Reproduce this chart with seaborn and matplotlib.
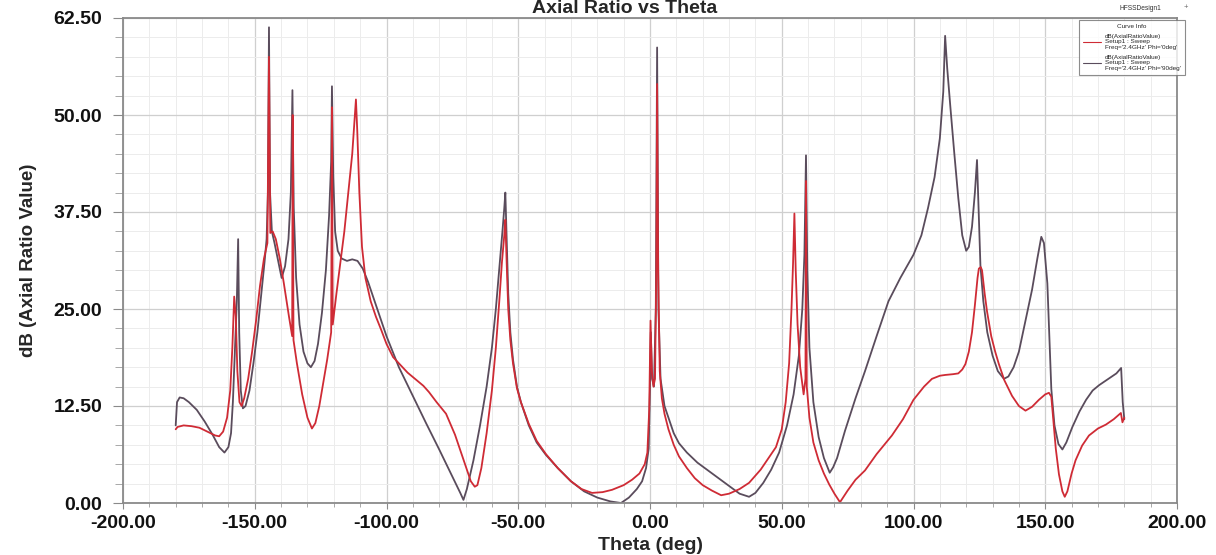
import numpy as np
import pandas as pd
import matplotlib
matplotlib.use('Agg')
import matplotlib.pyplot as plt
from matplotlib.ticker import MultipleLocator, FormatStrFormatter
from matplotlib.lines import Line2D
import seaborn as sns

# Phi = 90 deg curve (dark)
theta_phi90 = [-180, -179.5, -178.5, -177, -175, -172, -169, -166, -163.5, -161.5, -160, -159, -158.3,
               -157.5, -156.8, -156.3, -155.9, -155.3, -154.5, -153.5, -152, -150.5, -149, -147.5, -146.3,
               -145.5, -145, -144.6, -144.2, -143.5, -142.5, -141, -139.8, -138.5, -137.2, -136.3, -135.7,
               -135.2, -134.3, -133, -131.5, -130, -128.7, -127.3, -126, -124.5, -123, -121.8, -121.0,
               -120.7, -120.2, -119.5, -118.5, -117, -115, -113, -111, -109, -107, -105, -103, -100,
               -95.3, -90, -85, -80, -75, -72, -70.8, -69.5, -67, -64.5, -62, -60, -58.5, -57, -56,
               -55.3, -54.9, -54.4, -53.8, -53, -52, -50.5, -49, -46, -43, -39.5, -35, -30, -25, -20,
               -15, -11, -8, -5, -3, -1.5, -0.5, 0, 0.3, 0.8, 1.5, 2.2, 2.7, 3.2, 4, 5.5, 7, 9, 11, 14,
               18, 22, 26, 30, 34, 37.6, 40, 43, 46, 49, 52, 54.5, 56.5, 57.8, 58.6, 59.2, 59.7, 60.5,
               62, 64, 66, 68.2, 69.5, 71, 74, 78, 81.6, 86, 90.5, 95, 100, 103, 105.5, 108, 110, 111.3,
               112, 112.8, 114, 115.5, 117, 118.5, 120, 121, 122.2, 123.3, 124.1, 124.7, 125.4, 126.5,
               128, 130, 132, 134.3, 136, 138, 140, 142.5, 145, 147, 148.5, 149.5, 150.8, 151.5, 152.3,
               153.5, 155, 156.5, 158, 160.3, 163, 165.5, 168, 170.5, 174, 177, 178.8, 179.4, 180]
ar_phi90 = [10.0, 13.0, 13.6, 13.5, 13.0, 12.0, 10.5, 8.8, 7.2, 6.5, 7.2, 9.0, 13.0,
            20.0, 26.0, 34.0, 22.0, 14.5, 12.2, 12.5, 14.5, 18.0, 22.0, 27.0, 31.0,
            34.0, 40.0, 61.3, 40.0, 35.0, 33.5, 31.0, 29.0, 30.5, 34.0, 40.0, 53.2,
            38.0, 29.0, 23.0, 19.5, 18.0, 17.5, 18.3, 20.5, 24.5, 30.0, 37.0, 44.0,
            53.7, 42.0, 35.0, 32.5, 31.5, 31.2, 31.4, 31.2, 30.2, 28.5, 26.5, 24.5, 21.5,
            17.5, 13.8, 10.3, 6.9, 3.4, 1.3, 0.4, 1.8, 5.5, 10.0, 15.0, 20.0, 25.0, 31.0, 35.0,
            38.0, 40.0, 34.0, 27.0, 22.0, 18.5, 15.0, 13.0, 10.0, 7.8, 6.2, 4.5, 2.8, 1.5, 0.7,
            0.2, 0.0, 0.7, 1.8, 2.8, 4.5, 7.0, 15.0, 22.0, 16.0, 15.0, 25.0, 58.7, 25.0, 16.0, 12.5,
            11.0, 9.0, 7.7, 6.5, 5.2, 4.2, 3.2, 2.2, 1.2, 0.8, 1.3, 2.6, 4.3, 6.5, 10.0, 14.0, 19.0,
            25.0, 32.0, 44.8, 30.0, 20.0, 13.0, 8.5, 5.8, 3.9, 4.6, 5.8, 9.3, 13.5, 17.0, 21.5, 26.0,
            29.0, 32.0, 34.5, 38.0, 42.0, 47.0, 53.0, 60.2, 56.0, 51.0, 45.0, 39.3, 34.5, 32.5, 33.0,
            35.6, 40.0, 44.2, 38.0, 30.6, 26.0, 22.0, 19.0, 17.0, 16.0, 16.3, 17.5, 19.5, 23.5, 27.5,
            31.5, 34.3, 33.5, 28.3, 22.0, 14.7, 10.0, 7.6, 6.9, 7.8, 9.8, 11.8, 13.3, 14.5, 15.2,
            16.0, 16.7, 17.4, 13.0, 10.8]

# Phi = 0 deg curve (red)
theta_phi0 = [-180, -179.3, -177, -174, -171, -168, -165, -163.5, -162, -160.5, -159.3, -158.5, -157.8,
              -157.2, -156.6, -155.8, -155, -154, -152.5, -151, -149.5, -148, -146.5, -145.2, -144.6,
              -144.1, -143.2, -142, -140.5, -139, -137, -135.8, -135.6, -135.3, -134, -132, -130,
              -128.3, -127, -125.5, -124, -122.5, -121, -120.7, -120.4, -119, -117.5, -116, -114.5,
              -113, -112, -111.6, -111.1, -110.3, -109.3, -108, -106, -104, -102, -100, -97.5, -95.3,
              -92, -88.5, -86, -83.9, -81, -77.4, -74, -71.5, -69.8, -68, -66.5, -65.5, -64, -62, -60,
              -58.5, -57.2, -56.2, -55.3, -54.9, -54.4, -53.8, -53, -52, -50.5, -49, -46, -43, -39.5,
              -35, -30, -26, -22, -18, -14.4, -10, -6.8, -4, -2, -1, -0.3, 0.2, 0.7, 1.3, 1.9, 2.4,
              2.7, 3.1, 3.7, 4.5, 5.5, 7, 9, 11, 14, 17, 20, 23.5, 27, 30, 34, 37.6, 42, 45, 47.8, 50,
              51.5, 52.8, 53.7, 54.3, 54.8, 55.3, 56, 57, 58.3, 59.0, 59.2, 59.5, 60.5, 62, 64, 66,
              68, 70, 72.1, 75, 78, 81.6, 86, 91.8, 96, 100, 104, 107, 110, 112, 115, 117, 118.5,
              119.7, 121, 122.2, 123.3, 124.3, 124.8, 125.5, 126, 127, 127.9, 129.5, 131, 132.4,
              134.5, 137.4, 140, 142.5, 145, 147.6, 150, 151.4, 152.3, 153, 154, 155.2, 156.5, 157.4,
              158.4, 160, 161.5, 164, 166.6, 170, 173, 176, 178.7, 179.3, 180]
ar_phi0 = [9.5, 9.8, 10.0, 9.9, 9.7, 9.2, 8.7, 8.6, 9.2, 11.0, 14.5, 20.0, 26.6,
           24.0, 17.0, 13.0, 12.5, 13.5, 16.0, 19.5, 23.5, 28.0, 31.5, 33.5, 57.5,
           34.8, 35.0, 34.0, 31.5, 28.4, 24.0, 21.5, 50.0, 21.0, 18.0, 14.0, 11.0,
           9.6, 10.3, 12.5, 15.5, 18.5, 22.0, 51.0, 23.0, 27.0, 31.0, 35.0, 40.0,
           45.0, 50.0, 52.0, 48.0, 40.0, 33.0, 29.0, 26.0, 24.0, 22.3, 20.5, 18.8, 18.0,
           16.8, 15.8, 15.1, 14.3, 13.0, 11.5, 8.8, 6.3, 4.6, 2.8, 2.1, 2.3, 4.5, 9.0, 14.5,
           20.0, 26.0, 31.0, 34.5, 36.5, 31.0, 25.0, 21.0, 18.0, 14.8, 13.0, 10.2, 8.0, 6.3,
           4.5, 2.8, 1.8, 1.3, 1.4, 1.7, 2.3, 3.0, 3.8, 5.0, 6.5, 12.0, 23.5, 17.0, 15.0, 16.0, 30.0,
           54.0, 30.0, 17.0, 13.5, 11.5, 9.5, 7.5, 6.0, 4.5, 3.2, 2.3, 1.6, 1.0, 1.2, 1.8, 2.6, 4.3,
           5.8, 7.2, 9.5, 13.0, 18.0, 25.0, 31.0, 37.3, 30.0, 23.0, 17.5, 14.0, 16.0, 41.5, 15.0,
           11.0, 7.8, 5.5, 3.8, 2.4, 1.2, 0.1, 1.6, 3.0, 4.2, 6.3, 8.7, 10.8, 13.3, 15.0, 16.0,
           16.4, 16.5, 16.6, 16.7, 17.2, 17.9, 19.5, 22.0, 25.5, 29.0, 30.2, 30.4, 30.0, 27.0, 24.7,
           21.5, 19.5, 17.9, 15.8, 13.8, 12.5, 11.9, 12.4, 13.3, 14.0, 14.2, 13.7, 11.0, 7.0, 3.7,
           1.5, 0.8, 1.5, 3.8, 5.5, 7.4, 8.7, 9.6, 10.1, 10.8, 11.6, 10.4, 11.0]

x_ticks = [-200, -150, -100, -50, 0, 50, 100, 150, 200]
y_ticks = [0, 12.5, 25, 37.5, 50, 62.5]

red = '#cf2b35'
dark = '#5a4c5c'

sns.set_style('white')
plt.rcParams['font.family'] = ['Liberation Sans', 'DejaVu Sans']

fig = plt.figure(figsize=(12.16, 5.55), dpi=100)
ax = fig.add_axes([123 / 1216, 1 - 503 / 555, (1177 - 123) / 1216, (503 - 18) / 555])

df90 = pd.DataFrame({'Theta': theta_phi90, 'AR': ar_phi90})
df0 = pd.DataFrame({'Theta': theta_phi0, 'AR': ar_phi0})
sns.lineplot(data=df90, x='Theta', y='AR', ax=ax, color=dark, lw=1.3, sort=False, estimator=None)
sns.lineplot(data=df0, x='Theta', y='AR', ax=ax, color=red, lw=1.3, sort=False, estimator=None)

ax.set_xlim(-200, 200)
ax.set_ylim(0, 62.5)
ax.set_xticks(x_ticks)
ax.set_yticks(y_ticks)
ax.xaxis.set_minor_locator(MultipleLocator(10))
ax.yaxis.set_minor_locator(MultipleLocator(2.5))
ax.xaxis.set_major_formatter(FormatStrFormatter('%.2f'))
ax.yaxis.set_major_formatter(FormatStrFormatter('%.2f'))

ax.grid(which='major', color='#cfcfcf', lw=0.9)
ax.grid(which='minor', color='#ececec', lw=0.7)
ax.set_axisbelow(True)
for s in ax.spines.values():
    s.set_color('#8a8a8a')
    s.set_linewidth(1.3)

ax.tick_params(axis='y', which='major', direction='out', length=7, color='#8a8a8a', pad=8,
               left=True, labelsize=14)
ax.tick_params(axis='y', which='minor', direction='out', length=6, color='#9a9a9a', left=True)
ax.tick_params(axis='x', which='major', direction='out', length=4, color='#8a8a8a', pad=5,
               bottom=True, labelsize=14)
ax.tick_params(axis='x', which='minor', direction='out', length=3, color='#9a9a9a', bottom=True)
for lbl in ax.get_xticklabels() + ax.get_yticklabels():
    lbl.set_fontweight('bold')
    lbl.set_color('#111111')

ax.set_xlabel('Theta (deg)', fontsize=14, fontweight='bold', labelpad=3)
ax.set_ylabel('dB (Axial Ratio Value)', fontsize=13.5, fontweight='bold', labelpad=12)
ax.text(0.476, 1.011, 'Axial Ratio vs Theta', transform=ax.transAxes, ha='center',
        va='baseline', fontsize=14, fontweight='bold', clip_on=False)

# HFSS-style curve info box
fig.text(1140 / 1216, 1 - 8 / 555, 'HFSSDesign1', fontsize=4.8, ha='center', va='center', color='#333333')
fig.text(1186 / 1216, 1 - 8 / 555, '+', fontsize=5.5, ha='center', va='center', color='#666666')
handles = [Line2D([], [], color=red, lw=0.8), Line2D([], [], color=dark, lw=0.8)]
labels = ["dB(AxialRatioValue)\nSetup1 : Sweep\nFreq='2.4GHz' Phi='0deg'",
          "dB(AxialRatioValue)\nSetup1 : Sweep\nFreq='2.4GHz' Phi='90deg'"]
leg = ax.legend(handles, labels, loc='upper right', bbox_to_anchor=(1188 / 1216, 1 - 17 / 555),
                bbox_transform=fig.transFigure, fontsize=4.6, title='Curve Info', title_fontsize=4.6,
                frameon=True, fancybox=False, edgecolor='#707070', handlelength=2.8,
                borderpad=0.6, labelspacing=0.7, handletextpad=0.7)
leg.get_frame().set_linewidth(0.8)
leg.set_zorder(5)

fig.savefig('out.png', dpi=100)
